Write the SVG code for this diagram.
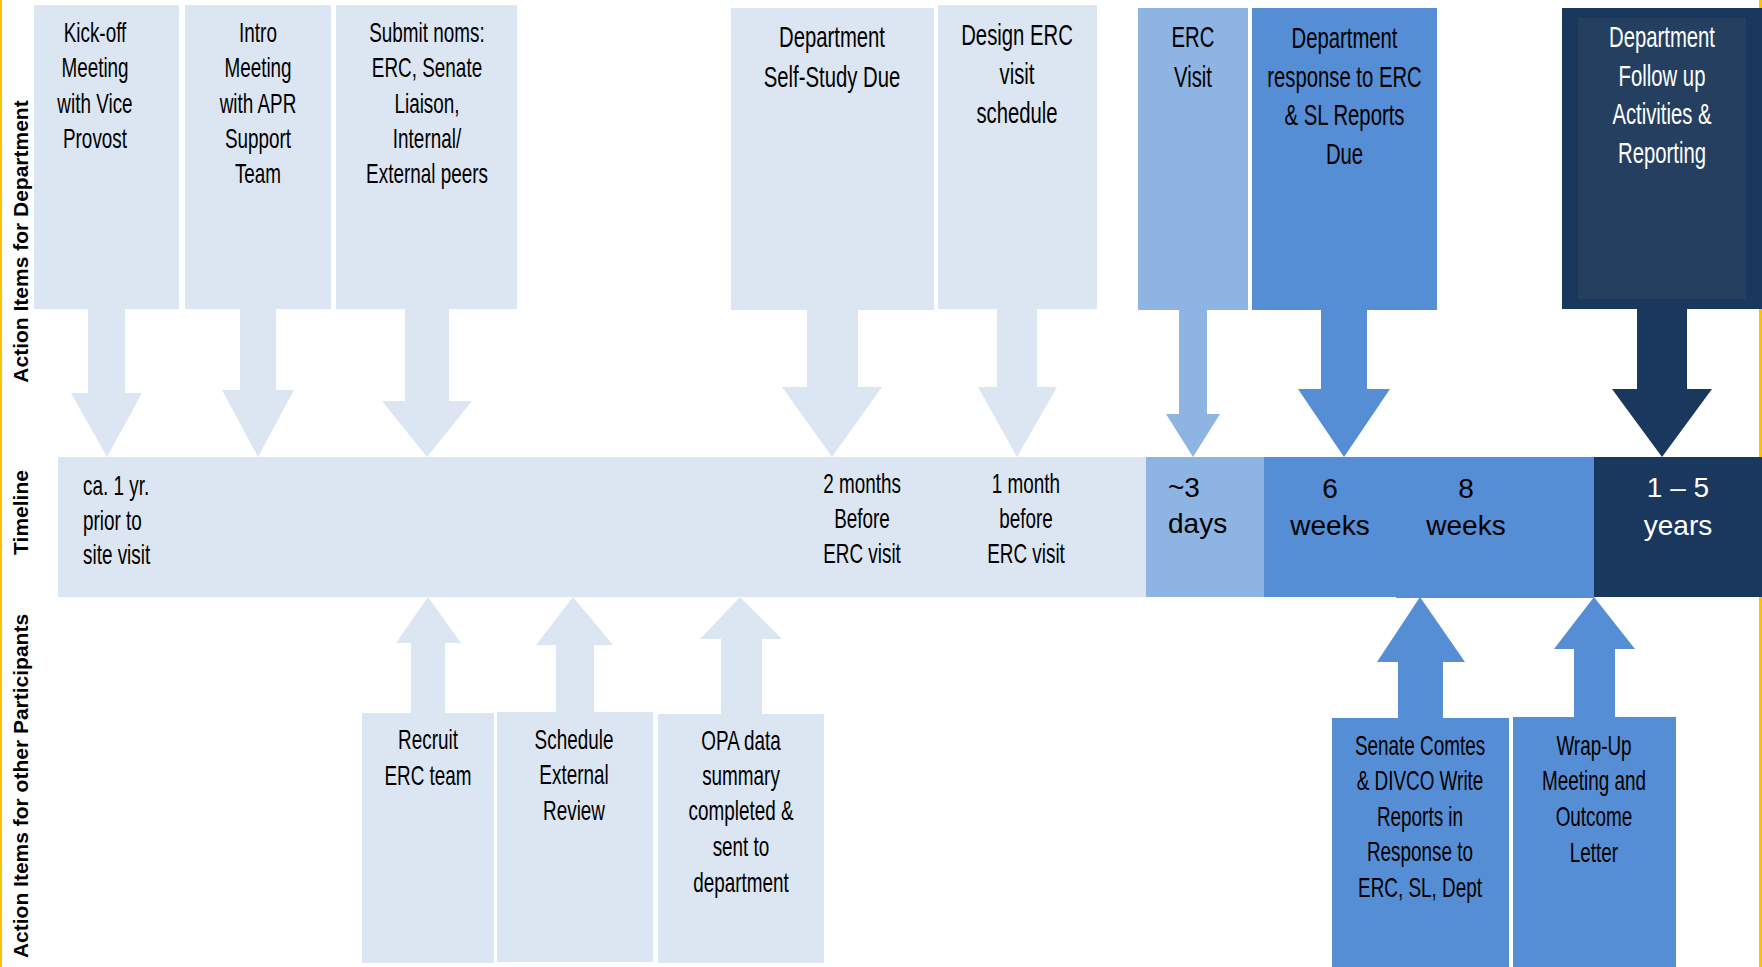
<svg xmlns="http://www.w3.org/2000/svg" width="1762" height="967" viewBox="0 0 1762 967">
<style>
.l{fill:#DCE6F2}
.m{fill:#8EB4E3}
.b{fill:#558ED5}
.d{fill:#1A375E}
.di{fill:#243F60}
.t27{font-family:"Liberation Sans",Arial,sans-serif;font-size:27px;fill:#000;text-anchor:middle}
.t29{font-family:"Liberation Sans",Arial,sans-serif;font-size:29px;fill:#000;text-anchor:middle}
.tn{font-family:"Liberation Sans",Arial,sans-serif;font-size:28px;fill:#000;text-anchor:middle}
.lab{font-family:"Liberation Sans",Arial,sans-serif;font-size:21px;font-weight:bold;fill:#000;text-anchor:middle}
.s{text-anchor:start}
.w{fill:#fff}
</style>
<rect x="0" y="0" width="1762" height="967" fill="#fff"/>
<rect x="0" y="0" width="2" height="967" fill="#FFC000"/>
<rect x="1759" y="0" width="3" height="967" fill="#FFC000"/>

<g id="lane-labels">
<text class="lab" transform="translate(28,241.5) rotate(-90)">Action Items for Department</text>
<text class="lab" transform="translate(28,512.5) rotate(-90)">Timeline</text>
<text class="lab" transform="translate(28,786) rotate(-90)">Action Items for other Participants</text>
</g>

<g id="connectors">
<polygon class="l" points="88,309 125,309 125,393 142,393 107,457 71,393 88,393"/>
<polygon class="l" points="240,309 276,309 276,390 294,390 258,457 222,390 240,390"/>
<polygon class="l" points="405,309 449,309 449,401 472,401 427,457 382,401 405,401"/>
<polygon class="l" points="807,310 858,310 858,387 882,387 832,457 782,387 807,387"/>
<polygon class="l" points="997,309 1037,309 1037,387 1057,387 1017,457 978,387 997,387"/>
<polygon class="m" points="1179,310 1207,310 1207,414 1220,414 1193,457 1166,414 1179,414"/>
<polygon class="b" points="1321,310 1367,310 1367,389 1390,389 1344,457 1298,389 1321,389"/>
<polygon class="d" points="1637,309 1687,309 1687,389 1712,389 1662,457 1612,389 1637,389"/>
<polygon class="l" points="411,713 445,713 445,643 461,643 428,597 396,643 411,643"/>
<polygon class="l" points="556,712 594,712 594,645 613,645 573,597 536,645 556,645"/>
<polygon class="l" points="721,714 762,714 762,639 782,639 740,597 700,639 721,639"/>
<polygon class="b" points="1398,718 1443,718 1443,662 1465,662 1420,597 1377,662 1398,662"/>
<polygon class="b" points="1574,717 1615,717 1615,649 1635,649 1594,597 1554,649 1574,649"/>
</g>

<g id="n-kickoff">
<rect class="l" x="34" y="5" width="145" height="304"/>
<text class="t27" transform="matrix(0.7 0 0 1 95 0)"><tspan x="0" y="42">Kick-off</tspan><tspan x="0" y="77.5">Meeting</tspan><tspan x="0" y="113">with Vice</tspan><tspan x="0" y="148.5">Provost</tspan></text>
</g>
<g id="n-intro">
<rect class="l" x="185" y="5" width="146" height="304"/>
<text class="t27" transform="matrix(0.7 0 0 1 258 0)"><tspan x="0" y="42">Intro</tspan><tspan x="0" y="77.5">Meeting</tspan><tspan x="0" y="113">with APR</tspan><tspan x="0" y="148">Support</tspan><tspan x="0" y="183.5">Team</tspan></text>
</g>
<g id="n-submit">
<rect class="l" x="336" y="5" width="181" height="304"/>
<text class="t27" transform="matrix(0.7 0 0 1 427 0)"><tspan x="0" y="42">Submit noms:</tspan><tspan x="0" y="77.5">ERC, Senate</tspan><tspan x="0" y="113">Liaison,</tspan><tspan x="0" y="148">Internal/</tspan><tspan x="0" y="183.5">External peers</tspan></text>
</g>
<g id="n-selfstudy">
<rect class="l" x="731" y="8" width="203" height="302"/>
<text class="t29" transform="matrix(0.7 0 0 1 832 0)"><tspan x="0" y="47">Department</tspan><tspan x="0" y="87">Self-Study Due</tspan></text>
</g>
<g id="n-design">
<rect class="l" x="938" y="5" width="159" height="304"/>
<text class="t29" transform="matrix(0.7 0 0 1 1017 0)"><tspan x="0" y="45">Design ERC</tspan><tspan x="0" y="84">visit</tspan><tspan x="0" y="123">schedule</tspan></text>
</g>
<g id="n-ercvisit">
<rect class="m" x="1138" y="8" width="110" height="302"/>
<text class="t29" transform="matrix(0.7 0 0 1 1193 0)"><tspan x="0" y="47">ERC</tspan><tspan x="0" y="87">Visit</tspan></text>
</g>
<g id="n-response">
<rect class="b" x="1252" y="8" width="185" height="302"/>
<text class="t29" transform="matrix(0.7 0 0 1 1344.5 0)"><tspan x="0" y="48">Department</tspan><tspan x="0" y="87">response to ERC</tspan><tspan x="0" y="125">&amp; SL Reports</tspan><tspan x="0" y="164">Due</tspan></text>
</g>
<g id="n-followup">
<rect class="d" x="1562" y="8" width="200" height="301"/>
<rect class="di" x="1578" y="18" width="168" height="281"/>
<text class="t29 w" transform="matrix(0.7 0 0 1 1662 0)"><tspan x="0" y="47">Department</tspan><tspan x="0" y="86">Follow up</tspan><tspan x="0" y="124">Activities &amp;</tspan><tspan x="0" y="163">Reporting</tspan></text>
</g>

<g id="timeline">
<rect class="l" x="58" y="457" width="1088" height="140"/>
<rect class="m" x="1146" y="457" width="118" height="140"/>
<rect class="b" x="1264" y="457" width="132" height="140"/>
<rect class="b" x="1396" y="457" width="198" height="141"/>
<rect class="d" x="1594" y="457" width="168" height="140"/>
<text class="t27 s" transform="matrix(0.7 0 0 1 83 0)"><tspan x="0" y="495">ca. 1 yr.</tspan><tspan x="0" y="530">prior to</tspan><tspan x="0" y="564">site visit</tspan></text>
<text class="t27" transform="matrix(0.7 0 0 1 862 0)"><tspan x="0" y="493">2 months</tspan><tspan x="0" y="528">Before</tspan><tspan x="0" y="563">ERC visit</tspan></text>
<text class="t27" transform="matrix(0.7 0 0 1 1026 0)"><tspan x="0" y="493">1 month</tspan><tspan x="0" y="528">before</tspan><tspan x="0" y="563">ERC visit</tspan></text>
<text class="tn s"><tspan x="1168" y="497">~3</tspan><tspan x="1168" y="533">days</tspan></text>
<text class="tn"><tspan x="1330" y="498">6</tspan><tspan x="1330" y="535">weeks</tspan></text>
<text class="tn"><tspan x="1466" y="498">8</tspan><tspan x="1466" y="535">weeks</tspan></text>
<text class="tn w"><tspan x="1678" y="497">1 – 5</tspan><tspan x="1678" y="535">years</tspan></text>
</g>

<g id="n-recruit">
<rect class="l" x="362" y="713" width="132" height="250"/>
<text class="t27" transform="matrix(0.7 0 0 1 428 0)"><tspan x="0" y="749">Recruit</tspan><tspan x="0" y="785">ERC team</tspan></text>
</g>
<g id="n-schedule">
<rect class="l" x="497" y="712" width="156" height="250"/>
<text class="t27" transform="matrix(0.7 0 0 1 574 0)"><tspan x="0" y="749">Schedule</tspan><tspan x="0" y="784">External</tspan><tspan x="0" y="820">Review</tspan></text>
</g>
<g id="n-opa">
<rect class="l" x="658" y="714" width="166" height="249"/>
<text class="t27" transform="matrix(0.7 0 0 1 741 0)"><tspan x="0" y="750">OPA data</tspan><tspan x="0" y="785">summary</tspan><tspan x="0" y="820">completed &amp;</tspan><tspan x="0" y="856">sent to</tspan><tspan x="0" y="892">department</tspan></text>
</g>
<g id="n-senate">
<rect class="b" x="1332" y="718" width="177" height="249"/>
<text class="t27" transform="matrix(0.7 0 0 1 1420 0)"><tspan x="0" y="755">Senate Comtes</tspan><tspan x="0" y="790">&amp; DIVCO Write</tspan><tspan x="0" y="826">Reports in</tspan><tspan x="0" y="861">Response to</tspan><tspan x="0" y="897">ERC, SL, Dept</tspan></text>
</g>
<g id="n-wrapup">
<rect class="b" x="1513" y="717" width="163" height="250"/>
<text class="t27" transform="matrix(0.7 0 0 1 1594 0)"><tspan x="0" y="755">Wrap-Up</tspan><tspan x="0" y="790">Meeting and</tspan><tspan x="0" y="826">Outcome</tspan><tspan x="0" y="862">Letter</tspan></text>
</g>
</svg>
